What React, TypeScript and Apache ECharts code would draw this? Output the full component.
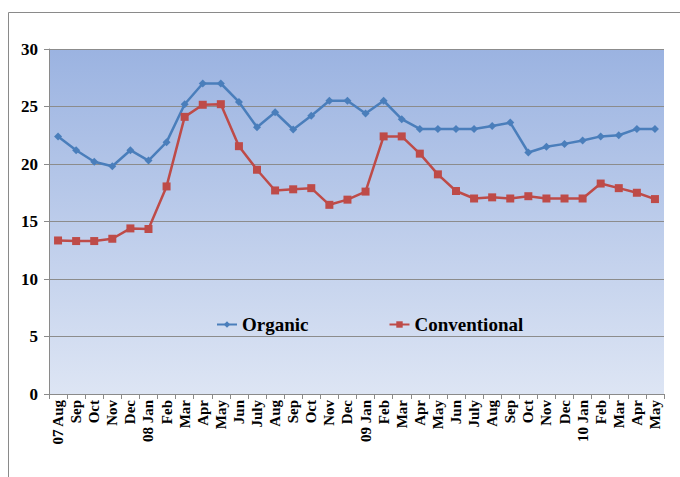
import React, { useEffect, useRef } from "react";
import * as echarts from "echarts";

const categories = [
  "07 Aug", "Sep", "Oct", "Nov", "Dec", "08 Jan", "Feb", "Mar", "Apr", "May",
  "Jun", "July", "Aug", "Sep", "Oct", "Nov", "Dec", "09 Jan", "Feb", "Mar",
  "Apr", "May", "Jun", "July", "Aug", "Sep", "Oct", "Nov", "Dec", "10 Jan",
  "Feb", "Mar", "Apr", "May",
];

const organic = [
  22.4, 21.2, 20.2, 19.8, 21.2, 20.3, 21.9, 25.2, 27.0, 27.0,
  25.4, 23.2, 24.5, 23.0, 24.2, 25.5, 25.5, 24.4, 25.5, 23.9,
  23.05, 23.05, 23.05, 23.05, 23.3, 23.6, 21.0, 21.5, 21.75, 22.05,
  22.4, 22.5, 23.05, 23.05,
];

const conventional = [
  13.35, 13.3, 13.3, 13.5, 14.4, 14.35, 18.05, 24.1, 25.15, 25.2,
  21.55, 19.5, 17.7, 17.8, 17.9, 16.45, 16.9, 17.6, 22.4, 22.4,
  20.9, 19.1, 17.65, 17.0, 17.1, 17.0, 17.2, 17.0, 17.0, 17.0,
  18.3, 17.9, 17.5, 16.95,
];

const seriesNames = ["Organic", "Conventional"];

export default function App() {
  const ref = useRef<HTMLDivElement>(null);
  useEffect(() => {
    if (!ref.current) return;
    const chart = echarts.init(ref.current, null, { renderer: "svg" });
    const serif = "Liberation Serif";
    chart.setOption({
      animation: false,
      backgroundColor: "#ffffff",
      graphic: [
        {
          type: "rect",
          shape: { x: 8.5, y: 12.5, width: 700, height: 500 },
          style: { fill: "none", stroke: "#8a8a8a", lineWidth: 1 },
          silent: true,
          z: -10,
        },
      ],
      grid: {
        left: 49,
        top: 49,
        right: 16,
        bottom: 83,
        show: true,
        borderWidth: 0,
        backgroundColor: new echarts.graphic.LinearGradient(0, 0, 0, 1, [
          { offset: 0, color: "#9bb3e1" },
          { offset: 1, color: "#dde5f4" },
        ]),
      },
      legend: {
        data: seriesNames,
        left: 211,
        top: 310,
        itemWidth: 20,
        itemHeight: 8,
        itemGap: 80,
        textStyle: {
          fontFamily: serif,
          fontWeight: "bold",
          fontSize: 19,
          color: "#000",
        },
      },
      xAxis: {
        type: "category",
        data: categories,
        boundaryGap: true,
        axisLine: { lineStyle: { color: "#8a8a8a", width: 1 } },
        axisTick: { show: true, length: 5, lineStyle: { color: "#8a8a8a" } },
        axisLabel: {
          interval: 0,
          rotate: 90,
          margin: 6,
          fontFamily: serif,
          fontWeight: "bold",
          fontSize: 15,
          color: "#000",
        },
      },
      yAxis: {
        type: "value",
        min: 0,
        max: 30,
        interval: 5,
        axisLine: { show: true, lineStyle: { color: "#8a8a8a", width: 1 } },
        axisTick: { show: true, length: 5, lineStyle: { color: "#8a8a8a" } },
        splitLine: { show: true, lineStyle: { color: "#8c8c8c", width: 1 } },
        axisLabel: {
          margin: 11,
          fontFamily: serif,
          fontWeight: "bold",
          fontSize: 17,
          color: "#000",
        },
      },
      series: [
        {
          name: seriesNames[0],
          type: "line",
          data: organic,
          symbol: "diamond",
          symbolSize: 8,
          lineStyle: { color: "#4a7ebb", width: 2.5 },
          itemStyle: { color: "#4a7ebb" },
        },
        {
          name: seriesNames[1],
          type: "line",
          data: conventional,
          symbol: "rect",
          symbolSize: 8,
          lineStyle: { color: "#be4b48", width: 2.5 },
          itemStyle: { color: "#be4b48" },
        },
      ],
    });
    return () => chart.dispose();
  }, []);
  return (
    <div
      ref={ref}
      style={{ position: "fixed", left: 0, top: 0, width: 680, height: 477 }}
    />
  );
}
